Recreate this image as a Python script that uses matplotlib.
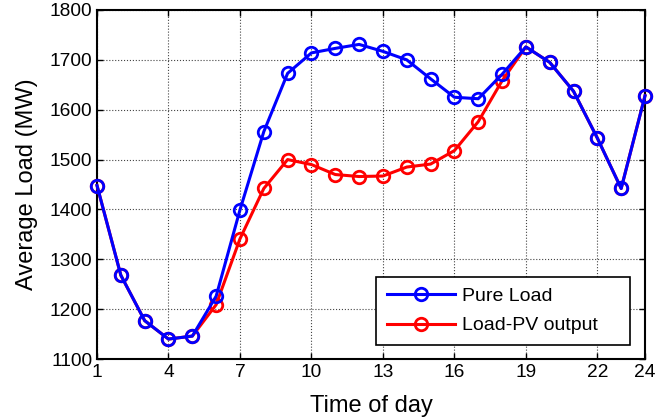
import numpy as np
import matplotlib.pyplot as plt

plt.rcParams['font.family'] = ['Liberation Sans', 'DejaVu Sans']

hours = np.arange(1, 25)
pure_load = [1448, 1268, 1177, 1140, 1146, 1226, 1399, 1556, 1673, 1714, 1723, 1731,
             1717, 1700, 1662, 1625, 1622, 1671, 1726, 1695, 1637, 1543, 1442, 1628]
load_pv = [1448, 1268, 1177, 1140, 1146, 1209, 1341, 1442, 1500, 1490, 1470, 1466,
           1467, 1485, 1491, 1518, 1576, 1658, 1726, 1695, 1637, 1543, 1442, 1628]
xticks = [1, 4, 7, 10, 13, 16, 19, 22, 24]
yticks = np.arange(1100, 1801, 100)

fig = plt.figure(figsize=(6.7, 4.2), dpi=100)
ax = fig.add_axes([0.1448, 0.1452, 0.8179, 0.8310])

ax.plot(hours, pure_load, color='#0000ff', lw=2.2, marker='o', ms=9,
        mfc='none', mec='#0000ff', mew=2, label='Pure Load', zorder=4, clip_on=False)
ax.plot(hours, load_pv, color='#ff0000', lw=2.2, marker='o', ms=9,
        mfc='none', mec='#ff0000', mew=2, label='Load-PV output', zorder=3, clip_on=False)

ax.set_xlim(1, 24)
ax.set_ylim(1100, 1800)
ax.set_xticks(xticks)
ax.set_yticks(yticks)
ax.tick_params(direction='in', top=True, right=True, labelsize=13.8, length=4, width=1)
ax.grid(True, color='#444444', linestyle=':', linewidth=0.8)
for s in ax.spines.values():
    s.set_linewidth(1.5)

ax.set_xlabel('Time of day', fontsize=17, labelpad=10)
ax.set_ylabel('Average Load (MW)', fontsize=17, labelpad=8)

# MATLAB-like legend box: extra room on the right of the labels
leg = ax.legend(loc='lower left', bbox_to_anchor=(0.509, 0.040, 0.4636, 0.2),
                mode='expand', borderaxespad=0, fontsize=14, fancybox=False,
                framealpha=1, edgecolor='black', handlelength=3.5,
                handletextpad=0.4, borderpad=0.55, labelspacing=0.6)
leg.get_frame().set_linewidth(1.2)
leg.set_zorder(5)

fig.savefig('out.png', dpi=100)
